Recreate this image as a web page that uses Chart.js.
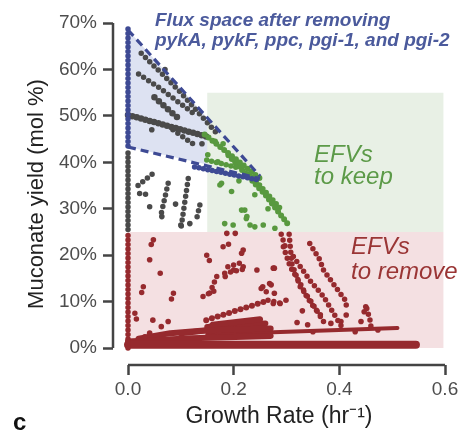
<!DOCTYPE html>
<html><head><meta charset="utf-8">
<script src="https://cdn.jsdelivr.net/npm/chart.js@4.4.1/dist/chart.umd.min.js"></script>
<style>html,body{margin:0;padding:0;background:#fff;}#wrap{width:462px;height:430px;}</style>
</head><body><div id="wrap"><canvas id="c" width="462" height="430"></canvas></div>
<script>
// ---------- data (x = growth rate hr^-1, y = muconate yield %) ----------
const xTicks = [0, 0.2, 0.4, 0.6];
const yTicks = [0, 10, 20, 30, 40, 50, 60, 70];

const fluxRegion = [[0,68.5],[0.25,37],[0,43.3],[0,68.5]];
const keepBox = [[0.15,25],[0.597,25],[0.597,55],[0.15,55],[0.15,25]];
const removeBox = [[0,0],[0.597,0],[0.597,25],[0,25],[0,0]];

const fluxBoundary = [
  [[0,68.5],[0.25,37]],
  [[0,43.3],[0.25,36.5]]
];
const blueLines = [
  [[0,43.5],[0,69.5]],
  [[0.126,39],[0.246,36.2]]
];
const grayLines = [
  [[0,25.5],[0,42.8]],
  [[0.025,63.5],[0.10,55],[0.17,46]],
  [[0.02,59],[0.06,56],[0.13,50]],
  [[0.05,54],[0.095,49.5]],
  [[0,50.2],[0.15,45.5]],
  [[0.085,47],[0.13,43.4]],
  [[0.019,35],[0.054,38.2]],
  [[0.022,33.3],[0.038,33]],
  [[0.076,35.5],[0.061,28]],
  [[0.114,36.5],[0.1,25.6]],
  [[0.136,30.8],[0.13,27.9]],
  [[0.041,30.4],[0.047,29.7]]
];
const grayPoints = [[0.064,28.3],[0.1,26.5],[0.117,26.8],[0.09,31],[0.14,44],[0.045,47],[0.07,60]];
const greenLines = [
  [[0.145,46],[0.25,36.5]],
  [[0.19,41.5],[0.26,33],[0.307,26]],
  [[0.23,37.5],[0.293,29.5]],
  [[0.149,40.5],[0.212,38.7]]
];
const greenPoints = [[0.151,41.6],[0.17,40.1],[0.177,35.5],[0.196,33.7],[0.183,26.8],[0.199,26.5],
  [0.221,29.7],[0.224,27.9],[0.24,26.1],[0.256,26.5],[0.278,25.8],[0.174,35.1],[0.215,29.7],
  [0.231,26.5],[0.225,28.3],[0.165,44.5],[0.18,44],[0.21,36],[0.24,33],[0.265,30]];
const redBand = [
  [[0,0.7],[0.545,0.7]],
  [[0,1.4],[0.12,2.1],[0.27,2.6]],
  [[0.02,2.0],[0.08,3.2],[0.15,3.8],[0.27,4.2]],
  [[0.1,3.2],[0.15,3.8],[0.16,5],[0.25,6.2]],
  [[0.15,4.5],[0.26,5.3]],
  [[0.15,2.9],[0.51,4.3]]
];
const redLines = [
  [[0,0],[0,24.8]],
  [[0.305,24.5],[0.307,22],[0.31,18.2],[0.326,13.2],[0.345,10.3],[0.376,4.6]],
  [[0.344,22.5],[0.363,19],[0.37,16.8],[0.395,12.8],[0.41,10.5],[0.414,8.9]],
  [[0.294,21.8],[0.307,17.5],[0.326,13.9],[0.338,11.1],[0.351,8.9],[0.37,6.4]],
  [[0.313,19.7],[0.344,14.6],[0.37,11.1],[0.389,7.5],[0.408,3.9]],
  [[0.452,8.5],[0.458,6],[0.46,4.5]],
  [[0.148,6],[0.259,10]],
  [[0.142,11.1],[0.167,12.5]],
  [[0.189,17.5],[0.221,18.6]],
  [[0.183,16.1],[0.227,17.2]],
  [[0.168,15.4],[0.152,11.1]],
  [[0.149,20],[0.155,18.6]],
  [[0.18,21.8],[0.193,22.5]],
  [[0.252,12.8],[0.262,12.1]],
  [[0.265,10.3],[0.29,9.6]],
  [[0.061,16.1],[0.064,15.3]],
  [[0.029,13.2],[0.025,11.6]],
  [[0.086,11.8],[0.082,10.5]],
  [[0.013,7.5],[0.016,6.2]],
  [[0.29,24.5],[0.3,21]]
];
const redPoints = [[0.048,23.3],[0.044,22.3],[0.041,19],[0.047,6],[0.063,4.6],[0.076,5.7],[0.032,2.4],
  [0.041,3.2],[0.184,15.4],[0.2,16.8],[0.218,17.5],[0.244,16.8],[0.275,17.2],[0.218,21.1],
  [0.187,24.7],[0.203,24.7],[0.215,20.4],[0.268,13.9],[0.275,9.6],[0.288,9.6],[0.277,17.2],
  [0.255,13.2],[0.271,13.6],[0.277,11.8],[0.299,10.3],[0.34,5],[0.384,5.3],[0.403,5.7],
  [0.413,7.1],[0.447,7.8],[0.45,8.9],[0.441,5.7],[0.473,3.9],[0.32,5.5],[0.33,8],[0.35,3.5],[0.43,3.5]];

// ---------- colours ----------
const C = {
  blue:'#3e4a94', gray:'#4a4a4a', green:'#58993f', red:'#962a2e',
  fluxFill:'#dde2f2', keepFill:'#e8f0e5', removeFill:'#f4e0e2', axis:'#444'
};

const xy = pts => pts.map(([x,y]) => ({x, y}));
const datasets = [];
function region(pts, color){
  datasets.push({data: xy(pts), showLine:true, fill:'shape', backgroundColor:color,
    borderWidth:0, borderColor:'rgba(0,0,0,0)', pointRadius:0, order:10});
}
function dotted(pts, color, order, w=5.5, gap=6){
  datasets.push({data: xy(pts), showLine:true, fill:false, borderColor:color, borderWidth:w,
    borderDash:[0,gap], borderCapStyle:'round', pointRadius:0, order});
}
function solid(pts, color, order, w){
  datasets.push({data: xy(pts), showLine:true, fill:false, borderColor:color, borderWidth:w,
    borderCapStyle:'round', borderJoinStyle:'round', pointRadius:0, order});
}
function dots(pts, color, order){
  datasets.push({data: xy(pts), showLine:false, pointRadius:2.8, pointBackgroundColor:color,
    pointBorderWidth:0, order});
}
region(removeBox, C.removeFill);
region(keepBox, C.keepFill);
region(fluxRegion, C.fluxFill);
redBand.forEach((p,i) => solid(p, C.red, 6, i===0 ? 8 : (i===5 ? 4 : 6)));
redLines.forEach((p,i) => dotted(p, C.red, 5, i===6 ? 6 : 5.5, i===0 ? 4.5 : 6));
dots(redPoints, C.red, 5);
grayLines.forEach((p,i) => dotted(p, C.gray, 4, (i===3||i===4)?6.5:5.5, (i===0||i===4)?4.5:6));
dots(grayPoints, C.gray, 4);
greenLines.forEach((p,i) => dotted(p, C.green, 3, i<2?6:5.5, 5));
dots(greenPoints, C.green, 3);
blueLines.forEach(p => dotted(p, C.blue, 2, 5.5, 4.5));
fluxBoundary.forEach(p => datasets.push({data: xy(p), showLine:true, fill:false, borderColor:C.blue,
  borderWidth:3.2, borderDash:[8,5], pointRadius:0, order:1}));

const decor = {
  id:'decor',
  afterDraw(chart){
    const {ctx, scales:{x, y}, chartArea:a} = chart;
    ctx.save();
    ctx.strokeStyle = C.axis; ctx.lineWidth = 2.5; ctx.lineCap = 'butt';
    ctx.beginPath();
    ctx.moveTo(a.left, y.getPixelForValue(70)); ctx.lineTo(a.left, y.getPixelForValue(0));
    ctx.moveTo(x.getPixelForValue(0), a.bottom); ctx.lineTo(x.getPixelForValue(0.6), a.bottom);
    ctx.stroke();
    ctx.textBaseline = 'middle'; ctx.textAlign = 'left';
    ctx.fillStyle = '#4b5a9c';
    ctx.font = 'italic bold 19px "Liberation Sans", Arial, sans-serif';
    ctx.fillText('Flux space after removing', 155, 21);
    ctx.fillText('pykA, pykF, ppc, pgi-1, and pgi-2', 155, 41);
    ctx.font = 'italic 24px "Liberation Sans", Arial, sans-serif';
    ctx.fillStyle = '#5c9a48';
    ctx.fillText('EFVs', 314, 155);
    ctx.fillText('to keep', 314, 177);
    ctx.fillStyle = '#9a3535';
    ctx.fillText('EFVs', 351, 247);
    ctx.fillText('to remove', 351, 272);
    ctx.fillStyle = '#111';
    ctx.font = 'bold 24px "Liberation Sans", Arial, sans-serif';
    ctx.textBaseline = 'alphabetic';
    ctx.fillText('c', 13, 430);
    ctx.restore();
  }
};

new Chart(document.getElementById('c'), {
  type:'scatter',
  data:{datasets},
  options:{
    responsive:false, animation:false, events:[],
    layout:{padding:{top:23, right:17, left:0, bottom:0}},
    plugins:{legend:{display:false}, tooltip:{enabled:false}},
    scales:{
      x:{
        type:'linear', min:-0.0284, max:0.6,
        afterBuildTicks(s){ s.ticks = xTicks.map(v => ({value:v})); },
        afterFit(s){ s.height = 65; },
        grid:{drawOnChartArea:false, drawTicks:true, tickLength:10, tickWidth:2.5, tickColor:C.axis},
        border:{display:false},
        ticks:{padding:3, color:'#4d4d4d', font:{size:19, family:'"Liberation Sans", Arial'},
          callback:v => v.toFixed(1)},
        title:{display:true, text:'Growth Rate (hr\u207B\u00B9)', color:'#222',
          font:{size:23, family:'"Liberation Sans", Arial'}, padding:{top:0, bottom:0}}
      },
      y:{
        type:'linear', min:-3.66, max:70,
        afterBuildTicks(s){ s.ticks = yTicks.map(v => ({value:v})); },
        afterFit(s){ s.width = 113; },
        grid:{drawOnChartArea:false, drawTicks:true, tickLength:10, tickWidth:2.5, tickColor:C.axis},
        border:{display:false},
        ticks:{padding:6, color:'#4d4d4d', font:{size:19, family:'"Liberation Sans", Arial'},
          callback:v => v + '%'},
        title:{display:true, text:'Muconate yield (mol %)', color:'#222',
          font:{size:22, family:'"Liberation Sans", Arial'}, padding:{top:24, bottom:0}}
      }
    }
  },
  plugins:[decor]
});
</script></body></html>
